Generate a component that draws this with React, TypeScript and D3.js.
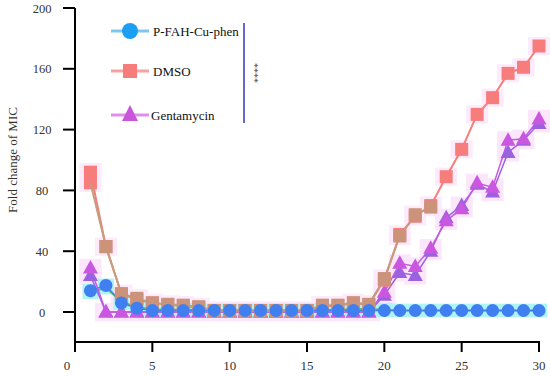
import React from "react";
import * as d3 from "d3";

const days = d3.range(1, 31);
const yTicks = [0, 40, 80, 120, 160, 200];
const xTicks = [0, 5, 10, 15, 20, 25, 30];

const pfahA = [14, 17.5, 6, 2.5, 1, 1, 1, 1, 1, 1, 1, 1, 1, 1, 1, 1, 1, 1, 1, 1, 1, 1, 1, 1, 1, 1, 1, 1, 1, 1];
const pfahB = [13, 16, 7, 3, 2, 1.5, 1.5, 1.5, 1, 1, 1, 1, 1, 1, 1, 1.5, 1.5, 2, 2, 1.5, 1, 1, 1, 1, 1, 1, 1, 1, 1, 1];
const dmsoA = [92, 43, 12, 8, 6, 5, 4, 3, 1, 1, 1, 1, 1, 1, 1, 4, 4, 6, 5, 21, 51, 63, 70, 89, 107, 130, 141, 157, 161, 175];
const dmsoB = [85, 43, 12, 9, 6, 5, 4.5, 3.5, 1, 1, 1, 1, 1, 1, 1, 4.5, 4.5, 6, 5, 22, 50, 64, 69];
const gentA = [29, 0, 0, 0, 0, 0, 0, 0, 0, 0, 0, 0, 0, 0, 0, 0, 0, 0, 0, 13, 32, 30, 42, 60, 68, 85, 82, 113, 114, 127];
const gentB = [24, 0, 0, 0, 0, 0, 0, 0, 0, 0, 0, 0, 0, 0, 0, 0, 0, 0, 0, 11, 26, 24, 40, 62, 70, 84, 79, 105, 113, 124];

const legendNames = ["P-FAH-Cu-phen", "DMSO", "Gentamycin"];

const font = "Liberation Serif, Times New Roman, serif";
const ts = { fontFamily: font };

export default function App() {
  const x = d3.scaleLinear().domain([0, 30]).range([75, 539]);
  const y = d3.scaleLinear().domain([-20, 200]).range([342.4, 8]);
  const line = (vals: number[]) =>
    d3.line<number>().x((_, i) => x(days[i])).y((v) => y(v))(vals) || "";

  const halo = (a: number[], b: number[], w: number, pad: number, color: string, key: string) =>
    a.map((v, i) => {
      const v2 = b[i] !== undefined ? b[i] : v;
      const top = y(Math.max(v, v2) + pad);
      const bot = y(Math.min(v, v2) - pad);
      return <rect key={key + i} x={x(days[i]) - w / 2} y={top} width={w} height={bot - top} fill={color} />;
    });

  const sq = (vals: number[], color: string, key: string, from = 0, to = 99) =>
    vals.map((v, i) =>
      i < from || i > to ? null : (
        <rect key={key + i} x={x(days[i]) - 6.5} y={y(v) - 6.5} width={13} height={13} fill={color} />
      )
    );
  const tri = (vals: number[], color: string, key: string) =>
    vals.map((v, i) => {
      const cx = x(days[i]);
      const cy = y(v);
      return <path key={key + i} d={`M${cx},${cy - 8}L${cx + 7.5},${cy + 5.5}L${cx - 7.5},${cy + 5.5}Z`} fill={color} />;
    });
  const circ = (vals: number[], color: string, key: string) =>
    vals.map((v, i) => <circle key={key + i} cx={x(days[i])} cy={y(v)} r={6.5} fill={color} />);

  return (
    <svg width={550} height={377} style={{ position: "absolute", left: 0, top: 0, background: "#fff" }}>
      {/* halos */}
      {halo(dmsoA, dmsoB, 22, 6, "#fdeafb", "hd")}
      {halo(gentA, gentB, 22, 6, "#fce6fb", "hg")}
      {halo(pfahA, pfahB, 16, 4.5, "#aef3f5", "hp")}

      {/* P-FAH lines */}
      <path d={line(pfahB)} fill="none" stroke="#5cc060" strokeWidth={2} />
      <path d={line(pfahA)} fill="none" stroke="#3f7fef" strokeWidth={1.5} />

      {/* Gentamycin */}
      <path d={line(gentB)} fill="none" stroke="#9b62e0" strokeWidth={1.5} />
      <path d={line(gentA)} fill="none" stroke="#c957df" strokeWidth={1.5} />
      {tri(gentB, "#9b62e0", "gb")}
      {tri(gentA, "#c957df", "ga")}

      {/* DMSO */}
      <path d={line(dmsoA)} fill="none" stroke="#f77c7c" strokeWidth={2} />
      {sq(dmsoB, "#f77c7c", "d0", 0, 0)}
      {sq(dmsoA, "#f77c7c", "da")}
      <path d={line(dmsoB)} fill="none" stroke="#c59d7c" strokeWidth={2} />
      {sq(dmsoB, "#cc937b", "db", 1)}

      {/* P-FAH circles on top */}
      {circ(pfahA, "#3f7fef", "pa")}

      {/* axes */}
      <line x1={75} x2={75} y1={y(200)} y2={352} stroke="#000" strokeWidth={2} />
      <line x1={75} x2={540} y1={342} y2={342} stroke="#000" strokeWidth={2} />
      {yTicks.map((t) => (
        <g key={"yt" + t}>
          <line x1={63} x2={75} y1={y(t)} y2={y(t)} stroke="#000" strokeWidth={2} />
          <text x={42} y={y(t) + 4.5} textAnchor="middle" style={ts} fontSize={12.5} fill="#333">
            {t}
          </text>
        </g>
      ))}
      {xTicks.map((t) => (
        <g key={"xt" + t}>
          <line x1={x(t)} x2={x(t)} y1={342} y2={352} stroke="#000" strokeWidth={2} />
          <text x={x(t) + (t === 0 ? -8 : 0)} y={370} textAnchor="middle" style={ts} fontSize={13} fill="#333">
            {t}
          </text>
        </g>
      ))}
      <text
        transform={`translate(17,${y(100)}) rotate(-90)`}
        textAnchor="middle"
        style={ts}
        fontSize={13}
        fill="#333"
      >
        Fold change of MIC
      </text>

      {/* legend */}
      <g>
        <line x1={111} x2={149} y1={31} y2={31} stroke="#7fc6f2" strokeWidth={3} />
        <circle cx={130} cy={31} r={8} fill="#1c9ef2" />
        <text x={153} y={35.5} style={ts} fontSize={13} fill="#111">{legendNames[0]}</text>

        <line x1={111} x2={149} y1={71} y2={71} stroke="#f6a2a2" strokeWidth={3} />
        <rect x={123} y={64} width={14} height={14} fill="#f77c7c" />
        <text x={153} y={75.5} style={ts} fontSize={13} fill="#111">{legendNames[1]}</text>

        <line x1={111} x2={149} y1={115} y2={115} stroke="#e090ea" strokeWidth={3} />
        <path d="M130,105L138,121L122,121Z" fill="#c855dc" />
        <text x={151} y={119.5} style={ts} fontSize={13} fill="#111">{legendNames[2]}</text>

        <line x1={244} x2={244} y1={23} y2={123} stroke="#3434c4" strokeWidth={1.5} />
        <text transform="translate(251,73) rotate(90)" textAnchor="middle" style={ts} fontSize={10} fill="#444">
          ****
        </text>
      </g>
    </svg>
  );
}
